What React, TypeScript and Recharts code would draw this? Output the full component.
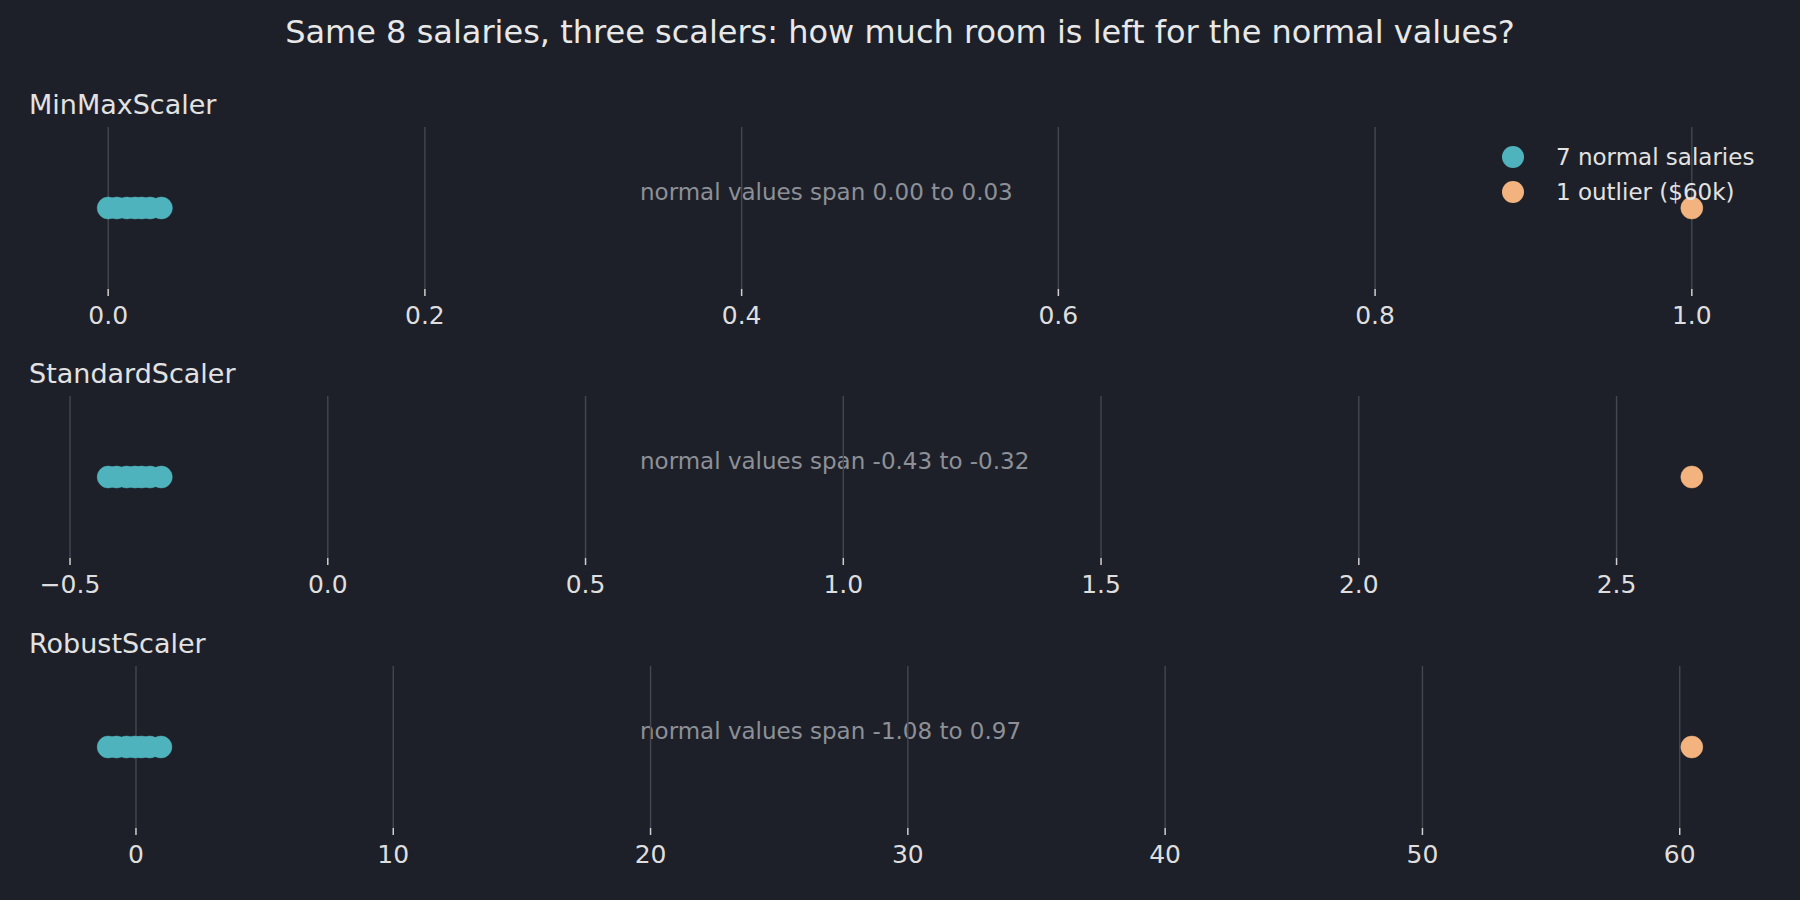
import React from 'react';
import { ScatterChart, Scatter, XAxis, YAxis, ReferenceLine, Legend } from 'recharts';

const TITLE = 'Same 8 salaries, three scalers: how much room is left for the normal values?';
const PANEL_NAMES = ['MinMaxScaler', 'StandardScaler', 'RobustScaler'];

const MINMAX_NORMAL = [0.0, 0.0055, 0.0118, 0.017, 0.0212, 0.0265, 0.0336];
const MINMAX_OUTLIER = [1.0];
const STANDARD_NORMAL = [-0.426, -0.4097, -0.3903, -0.3741, -0.3611, -0.3449, -0.323];
const STANDARD_OUTLIER = [2.646];
const ROBUST_NORMAL = [-1.08, -0.756, -0.369, -0.047, 0.2115, 0.533, 0.97];
const ROBUST_OUTLIER = [60.47];

const MINMAX_TICKS = [0, 0.2, 0.4, 0.6, 0.8, 1.0];
const STANDARD_TICKS = [-0.5, 0, 0.5, 1.0, 1.5, 2.0, 2.5];
const ROBUST_TICKS = [0, 10, 20, 30, 40, 50, 60];
const TICK_DECIMALS = [1, 1, 0];

const SPAN_LABELS = [
  'normal values span 0.00 to 0.03',
  'normal values span -0.43 to -0.32',
  'normal values span -1.08 to 0.97',
];
const LEGEND_LABELS = ['7 normal salaries', '1 outlier ($60k)'];

const BG = '#1e2029';
const TEAL = '#4fb3bd';
const ORANGE = '#f2b37e';
const GRID = '#45474f';
const FONT = '"DejaVu Sans", sans-serif';

const PANELS = [
  { normal: MINMAX_NORMAL, outlier: MINMAX_OUTLIER, ticks: MINMAX_TICKS },
  { normal: STANDARD_NORMAL, outlier: STANDARD_OUTLIER, ticks: STANDARD_TICKS },
  { normal: ROBUST_NORMAL, outlier: ROBUST_OUTLIER, ticks: ROBUST_TICKS },
];

const W = 1800;
const PLOT_H = 162;
const AXIS_H = 57;
const LAYOUT = [
  { top: 0, height: 346, mt: 127 },
  { top: 346, height: 270, mt: 50 },
  { top: 616, height: 284, mt: 50 },
];

const fmt = (d: number) => (v: number) => {
  const s = Math.abs(v).toFixed(d);
  return v < 0 ? '\u2212' + s : s;
};

const dot = (color: string) => (props: any) => (
  <circle cx={props.cx} cy={props.cy} r={11} fill={color} stroke={color} strokeOpacity={0.6} strokeWidth={0.8} />
);

const LegendContent = () => (
  <svg width={310} height={75} style={{ display: 'block' }}>
    <circle cx={23} cy={17} r={11} fill={TEAL} />
    <text x={66} y={25} fill="#e2e2e2" fontSize={23} fontFamily={FONT}>{LEGEND_LABELS[0]}</text>
    <circle cx={23} cy={52} r={11} fill={ORANGE} />
    <text x={66} y={60} fill="#e2e2e2" fontSize={23} fontFamily={FONT}>{LEGEND_LABELS[1]}</text>
  </svg>
);

function Panel({ idx }: { idx: number }) {
  const p = PANELS[idx];
  const L = LAYOUT[idx];
  const all = [...p.normal, ...p.outlier];
  const lo = Math.min(...all);
  const hi = Math.max(...all);
  const pad = (hi - lo) * 0.05;
  const normalData = p.normal.map((v) => ({ x: v, y: 0 }));
  const outlierData = p.outlier.map((v) => ({ x: v, y: 0 }));
  const mb = L.height - L.mt - PLOT_H - AXIS_H;
  return (
    <div style={{ position: 'absolute', left: 0, top: L.top, width: W, height: L.height }}>
      <ScatterChart width={W} height={L.height} margin={{ top: L.mt, right: 29, bottom: mb, left: 29 }}>
        <XAxis
          type="number"
          dataKey="x"
          domain={[lo - pad, hi + pad]}
          allowDataOverflow
          ticks={p.ticks}
          interval={0}
          tickFormatter={fmt(TICK_DECIMALS[idx])}
          axisLine={false}
          height={AXIS_H}
          tickSize={7}
          tickMargin={10}
          tickLine={{ stroke: '#cfcfcf', strokeWidth: 1.5 }}
          tick={{ fill: '#dedede', fontSize: 25, fontFamily: FONT }}
        />
        <YAxis type="number" dataKey="y" domain={[-1, 1]} hide />
        {p.ticks.map((t) => (
          <ReferenceLine key={t} x={t} stroke={GRID} strokeWidth={1.4} />
        ))}
        <Scatter name={LEGEND_LABELS[0]} data={normalData} fill={TEAL} shape={dot(TEAL)} isAnimationActive={false} />
        <Scatter name={LEGEND_LABELS[1]} data={outlierData} fill={ORANGE} shape={dot(ORANGE)} isAnimationActive={false} />
        {idx === 0 && (
          <Legend
            layout="vertical"
            align="center"
            verticalAlign="middle"
            content={<LegendContent />}
            wrapperStyle={{ position: 'absolute', left: 1490, top: 140, width: 310, height: 75 }}
          />
        )}
        {idx === 0 && (
          <text x={900} y={43} textAnchor="middle" fill="#e8e8e8" fontSize={32} fontFamily={FONT}>
            {TITLE}
          </text>
        )}
        <text x={29} y={L.mt - 13} fill="#e2e2e2" fontSize={27} fontFamily={FONT}>
          {PANEL_NAMES[idx]}
        </text>
        <text x={640} y={L.mt + 73} fill="#8d9097" fontSize={23} fontFamily={FONT}>
          {SPAN_LABELS[idx]}
        </text>
      </ScatterChart>
    </div>
  );
}

export default function App() {
  return (
    <div style={{ position: 'absolute', left: 0, top: 0, width: W, height: 900, background: BG, fontFamily: FONT, overflow: 'hidden' }}>
      <Panel idx={0} />
      <Panel idx={1} />
      <Panel idx={2} />
    </div>
  );
}
